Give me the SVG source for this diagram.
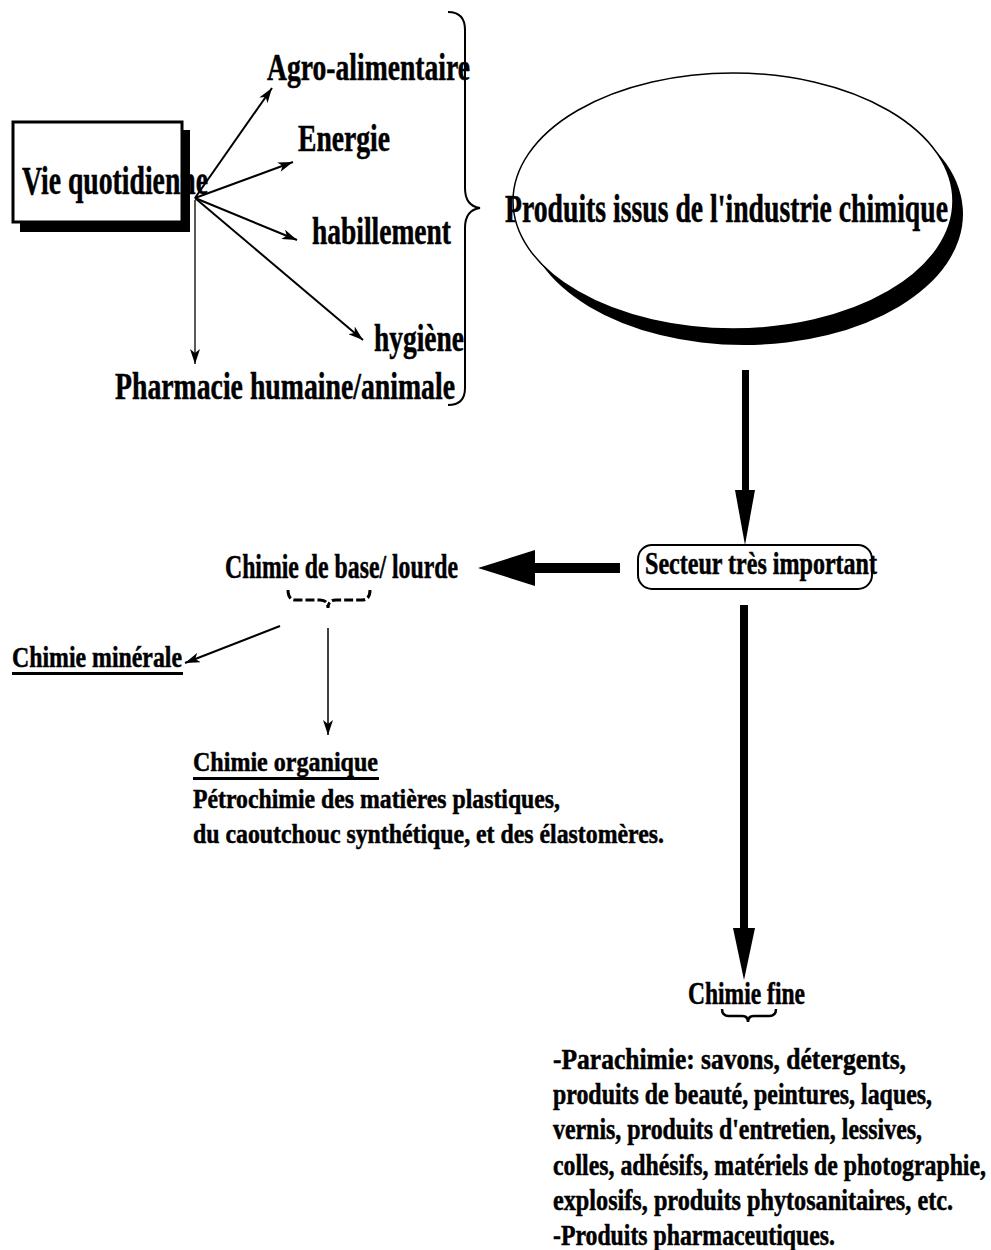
<svg xmlns="http://www.w3.org/2000/svg" width="991" height="1250" viewBox="0 0 991 1250">
<style>
text{font-family:"Liberation Serif","Times New Roman",serif;font-weight:bold;fill:#000;stroke:#000;stroke-width:0.5}
.c{stroke:#000;fill:none}
</style>
<defs>
<marker id="ah" markerUnits="userSpaceOnUse" markerWidth="16" markerHeight="10" refX="15" refY="5" orient="auto">
<path d="M0,0 L15,5 L0,10 L4,5 z" fill="#000"/>
</marker>
</defs>
<rect width="991" height="1250" fill="#fff"/>

<g id="connectors">
<line class="c" stroke-width="2" x1="195" y1="198" x2="272" y2="88" marker-end="url(#ah)"/>
<line class="c" stroke-width="2" x1="195" y1="198" x2="293" y2="162" marker-end="url(#ah)"/>
<line class="c" stroke-width="2" x1="195" y1="198" x2="297" y2="240" marker-end="url(#ah)"/>
<line class="c" stroke-width="2" x1="195" y1="198" x2="363" y2="340" marker-end="url(#ah)"/>
<line class="c" stroke-width="1.3" x1="195" y1="200" x2="195" y2="364" marker-end="url(#ah)"/>
<path class="c" stroke-width="2" d="M448,12 Q465,12 465,30 L465,188 Q465,206 480,208 Q465,210 465,228 L465,388 Q465,405 448,405"/>
<g fill="#000">
<rect x="742" y="370" width="7" height="125"/>
<polygon points="735,490 755,490 745,545"/>
<rect x="530" y="563" width="90" height="10"/>
<polygon points="478,568 535,550 535,586"/>
<rect x="740" y="605" width="8" height="330"/>
<polygon points="733,928 755,928 744,980"/>
</g>
<path class="c" stroke-width="3" stroke-dasharray="9 3" d="M288,590 Q288,600 296,600 L320,600 Q328,600 328,608 Q328,600 336,600 L362,600 Q370,600 370,590"/>
<line class="c" stroke-width="2" x1="280" y1="626" x2="185" y2="663" marker-end="url(#ah)"/>
<line class="c" stroke-width="1.5" x1="328" y1="628" x2="328" y2="735" marker-end="url(#ah)"/>
<path class="c" stroke-width="2.5" d="M722,1009 Q722,1016 729,1016 L742,1016 Q748,1016 748,1022 Q748,1016 754,1016 L769,1016 Q776,1016 776,1009"/>
</g>

<g id="vie">
<rect x="20" y="130" width="170" height="102" fill="#000"/>
<rect x="13" y="122" width="169" height="100" fill="#fff" stroke="#000" stroke-width="3"/>
<text x="22" y="194" font-size="40" textLength="186" lengthAdjust="spacingAndGlyphs">Vie quotidienne</text>
</g>

<g id="agro"><text x="267" y="80" font-size="37" textLength="203" lengthAdjust="spacingAndGlyphs">Agro-alimentaire</text></g>
<g id="energie"><text x="298" y="151" font-size="37" textLength="92" lengthAdjust="spacingAndGlyphs">Energie</text></g>
<g id="habillement"><text x="312" y="244" font-size="37" textLength="139" lengthAdjust="spacingAndGlyphs">habillement</text></g>
<g id="hygiene"><text x="374" y="351" font-size="37" textLength="90" lengthAdjust="spacingAndGlyphs">hygiène</text></g>
<g id="pharmacie"><text x="115" y="399" font-size="37" textLength="340" lengthAdjust="spacingAndGlyphs">Pharmacie humaine/animale</text></g>

<g id="produits">
<ellipse cx="744" cy="214" rx="219" ry="131" fill="#000"/>
<ellipse cx="733" cy="201" rx="220" ry="128" fill="#fff" stroke="#000" stroke-width="1.5"/>
<text x="505" y="222" font-size="40" textLength="443" lengthAdjust="spacingAndGlyphs">Produits issus de l'industrie chimique</text>
</g>

<g id="secteur">
<rect x="638" y="545" width="234" height="44" rx="14" fill="#fff" stroke="#000" stroke-width="2"/>
<text x="645" y="574" font-size="32" textLength="232" lengthAdjust="spacingAndGlyphs">Secteur très important</text>
</g>

<g id="base"><text x="225" y="578" font-size="33" textLength="233" lengthAdjust="spacingAndGlyphs">Chimie de base/ lourde</text></g>

<g id="minerale">
<text x="12" y="667" font-size="30" textLength="170" lengthAdjust="spacingAndGlyphs">Chimie minérale</text>
<rect x="12" y="672" width="171" height="3" fill="#000"/>
</g>

<g id="organique">
<text x="193" y="771" font-size="28" textLength="185" lengthAdjust="spacingAndGlyphs">Chimie organique</text>
<rect x="193" y="777" width="186" height="3" fill="#000"/>
<text x="193" y="808" font-size="28" textLength="367" lengthAdjust="spacingAndGlyphs">Pétrochimie des matières plastiques,</text>
<text x="193" y="843" font-size="28" textLength="471" lengthAdjust="spacingAndGlyphs">du caoutchouc synthétique, et des élastomères.</text>
</g>

<g id="fine">
<text x="688" y="1004" font-size="31" textLength="117" lengthAdjust="spacingAndGlyphs">Chimie fine</text>
<text x="553" y="1069" font-size="29" textLength="353" lengthAdjust="spacingAndGlyphs">-Parachimie: savons, détergents,</text>
<text x="553" y="1104" font-size="29" textLength="379" lengthAdjust="spacingAndGlyphs">produits de beauté, peintures, laques,</text>
<text x="553" y="1139" font-size="29" textLength="369" lengthAdjust="spacingAndGlyphs">vernis, produits d'entretien, lessives,</text>
<text x="553" y="1175" font-size="29" textLength="433" lengthAdjust="spacingAndGlyphs">colles, adhésifs, matériels de photographie,</text>
<text x="553" y="1210" font-size="29" textLength="400" lengthAdjust="spacingAndGlyphs">explosifs, produits phytosanitaires, etc.</text>
<text x="553" y="1245" font-size="29" textLength="282" lengthAdjust="spacingAndGlyphs">-Produits pharmaceutiques.</text>
</g>
</svg>
